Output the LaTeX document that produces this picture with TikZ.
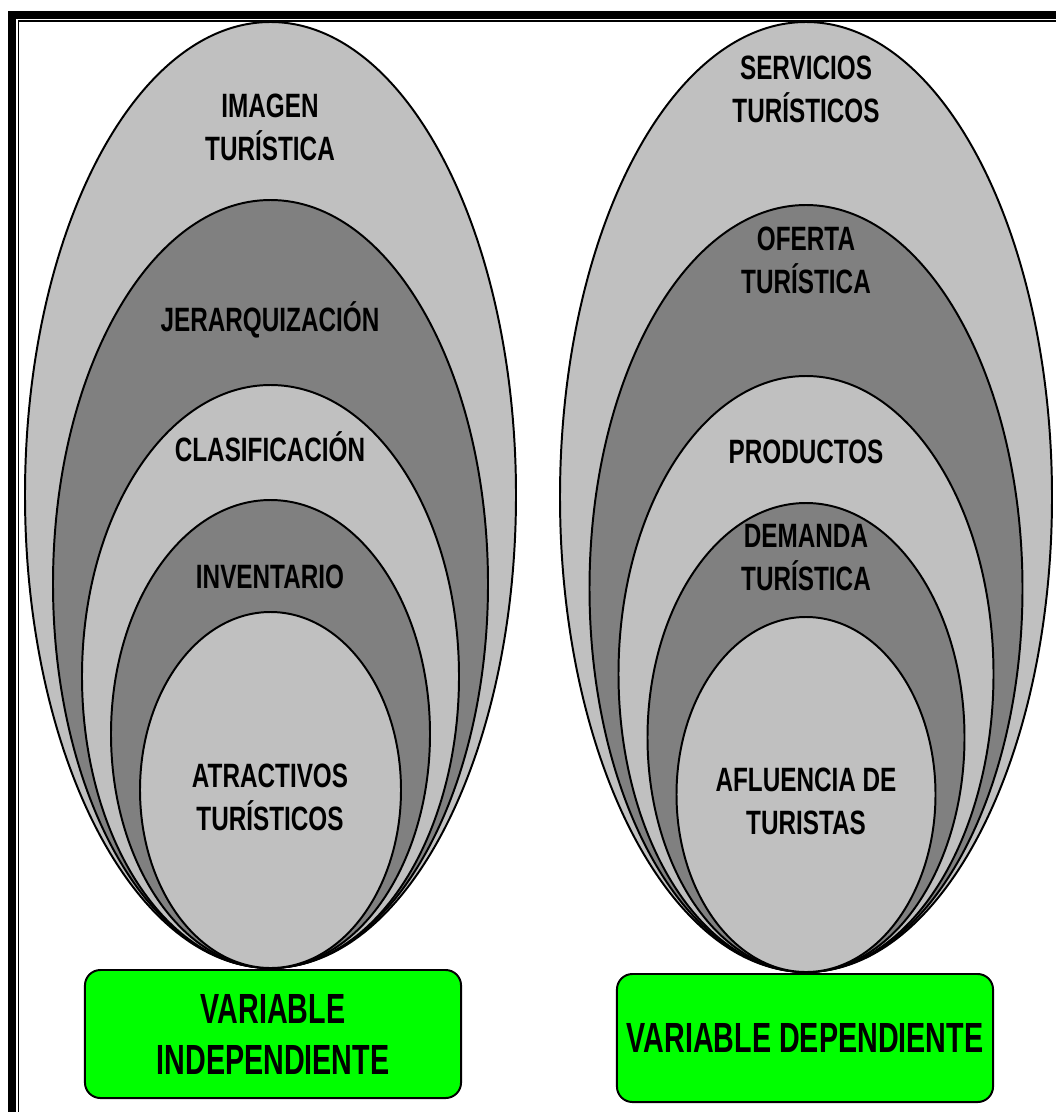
\documentclass[tikz,border=0pt]{standalone}
\usepackage{fontspec}
\setmainfont{Liberation Sans}[FakeStretch=0.72]
\newfontfamily\boxfont{Liberation Sans}[FakeStretch=0.68]

\definecolor{shadelight}{HTML}{C0C0C0}
\definecolor{shadedark}{HTML}{808080}
\definecolor{vargreen}{HTML}{00FF00}

\begin{document}
\begin{tikzpicture}[x=0.025cm,y=-0.025cm,
    ring/.style={draw=black,line width=1.4pt},
    lab/.style={font=\fontsize{24}{30.6}\selectfont\bfseries,align=center},
    varbox/.style={draw=black,line width=1.4pt,fill=vargreen,rounded corners=11pt,
        minimum width=9.4cm,minimum height=3.2cm,align=center,
        font=\boxfont\fontsize{30}{36.3}\selectfont\bfseries}]

    \useasboundingbox (0,0) rectangle (1056,1112);

    % frame
    \draw[line width=5.7pt] (12,1112) -- (12,15) -- (1056,15);
    \draw[line width=0.9pt] (18.5,1112) -- (18.5,21) -- (1056,21);

    % independent variable
    \filldraw[ring,fill=shadelight] (270.5,495) ellipse [x radius=245.5,y radius=473];
    \filldraw[ring,fill=shadedark] (270.5,584) ellipse [x radius=217.5,y radius=384];
    \filldraw[ring,fill=shadelight] (270.5,676.5) ellipse [x radius=188.5,y radius=291.5];
    \filldraw[ring,fill=shadedark] (270.5,734) ellipse [x radius=159.5,y radius=234];
    \filldraw[ring,fill=shadelight] (270.5,790) ellipse [x radius=130.5,y radius=178];

    \node[lab] (imagen) at (270,127) {IMAGEN\\TURÍSTICA};
    \node[lab] (jerarq) at (270,320) {JERARQUIZACIÓN};
    \node[lab] (clasif) at (270,447) {CLASIFICACIÓN};
    \node[lab] (invent) at (270,577) {INVENTARIO};
    \node[lab] (atract) at (270,797) {ATRACTIVOS\\TURÍSTICOS};

    % dependent variable
    \filldraw[ring,fill=shadelight] (806,497) ellipse [x radius=246,y radius=475];
    \filldraw[ring,fill=shadedark] (806,588.5) ellipse [x radius=216.5,y radius=383.5];
    \filldraw[ring,fill=shadelight] (806,674) ellipse [x radius=187.5,y radius=298];
    \filldraw[ring,fill=shadedark] (806,737.5) ellipse [x radius=158.5,y radius=234.5];
    \filldraw[ring,fill=shadelight] (806,794.5) ellipse [x radius=129.5,y radius=177.5];

    \node[lab] (servic) at (806,89) {SERVICIOS\\TURÍSTICOS};
    \node[lab] (oferta) at (806,260) {OFERTA\\TURÍSTICA};
    \node[lab] (produc) at (806,452) {PRODUCTOS};
    \node[lab] (demand) at (806,558) {DEMANDA\\TURÍSTICA};
    \node[lab] (afluen) at (806,801) {AFLUENCIA DE\\TURISTAS};

    \node[varbox] (indep) at (273,1034) {VARIABLE\\INDEPENDIENTE};
    \node[varbox] (depen) at (805,1038) {VARIABLE DEPENDIENTE};

\end{tikzpicture}
\end{document}
